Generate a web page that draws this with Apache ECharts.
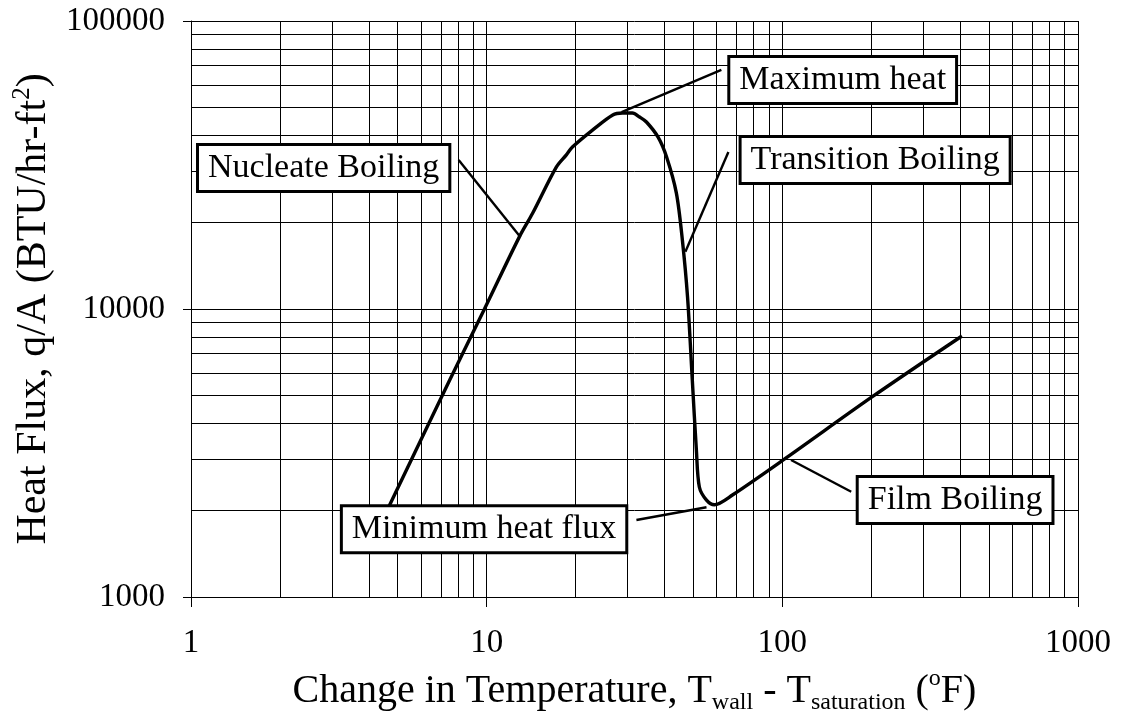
<!DOCTYPE html>
<html><head><meta charset="utf-8">
<script src="https://cdn.jsdelivr.net/npm/echarts@6/dist/echarts.min.js"></script>
<style>html,body{margin:0;padding:0;background:#fff}#c{width:1122px;height:721px}</style>
</head><body><div id="c"></div>
<script>
const FONT = '"Liberation Serif","Times New Roman",serif';

// Axis ticks
const xTicks = [1, 10, 100, 1000];
const yTicks = [1000, 10000, 100000];
// Minor grid values
const gridX = [2,3,4,5,6,7,8,9,20,30,40,50,60,70,80,90,200,300,400,500,600,700,800,900];
const gridY = [2000,3000,4000,5000,6000,7000,8000,9000,20000,30000,40000,50000,60000,70000,80000,90000];

// Boiling curve (ΔT in °F, q/A in BTU/hr-ft²)
const curveX = [4.0, 7.5, 9.83, 12.9, 14.3, 17.2, 18.6, 19.5, 22.8, 26.7, 28.8, 31.1, 32.9, 34.7, 38.0, 40.6, 43.8, 45.9, 47.8, 49.6, 51.2, 52.4, 55.4, 58.9, 67.8, 103, 201, 405];
const curveY = [1480, 5670, 10000, 17800, 21500, 31100, 34300, 36500, 41800, 47200, 47900, 47900, 46400, 44600, 39500, 33700, 25300, 17400, 11000, 5670, 3240, 2410, 2170, 2090, 2260, 3040, 4950, 8060];

// Annotations
const labelText = ['Nucleate Boiling', 'Maximum heat', 'Transition Boiling', 'Film Boiling', 'Minimum heat flux'];
const labelX = [2.81, 160, 206, 384, 9.8];
const labelY = [30900, 62400, 32900, 2170, 1720];
const arrowFromX = [8.04, 62.2, 65.7, 171, 32.1];
const arrowFromY = [32900, 67600, 35100, 2320, 1850];
const arrowToX = [13.0, 28.6, 47.0, 107, 55.4];
const arrowToY = [17800, 48300, 15800, 2990, 2050];

const chart = echarts.init(document.getElementById('c'), null, {renderer: 'canvas'});

const curveData = curveX.map((x, i) => [x, curveY[i]]);
const gridLines = gridX.map(v => ({xAxis: v})).concat(gridY.map(v => ({yAxis: v})));
const arrows = labelText.map((t, i) => [
  {coord: [arrowFromX[i], arrowFromY[i]]},
  {coord: [arrowToX[i], arrowToY[i]]}
]);
const boxes = labelText.map((t, i) => ({name: t, coord: [labelX[i], labelY[i]]}));

const axisCommon = {
  type: 'log',
  logBase: 10,
  axisLine: {show: true, lineStyle: {color: '#000', width: 1}},
  splitLine: {show: true, lineStyle: {color: '#000', width: 1}},
  minorTick: {show: false},
  nameLocation: 'middle',
};

chart.setOption({
  animation: false,
  backgroundColor: '#fff',
  grid: {left: 191, right: 44, top: 21, bottom: 124},
  xAxis: Object.assign({}, axisCommon, {
    min: xTicks[0], max: xTicks[xTicks.length - 1],
    axisTick: {show: true, length: 10, inside: false, lineStyle: {color: '#000'}},
    axisLabel: {fontFamily: FONT, fontSize: 33, color: '#000', margin: 30,
      formatter: v => String(Math.round(v))},
    name: '{m|Change in Temperature, T}{s|wall}{m| - T}{s|saturation}{m| (}{p|o}{m|F)}',
    nameGap: 70,
    nameTextStyle: {
      fontFamily: FONT, color: '#000',
      rich: {
        m: {fontFamily: FONT, fontSize: 40, color: '#000', lineHeight: 48},
        s: {fontFamily: FONT, fontSize: 24, color: '#000', lineHeight: 24, verticalAlign: 'bottom'},
        p: {fontFamily: FONT, fontSize: 24, color: '#000', lineHeight: 24, verticalAlign: 'top'}
      }
    }
  }),
  yAxis: Object.assign({}, axisCommon, {
    min: yTicks[0], max: yTicks[yTicks.length - 1],
    axisTick: {show: true, length: 8, inside: false, lineStyle: {color: '#000'}},
    axisLabel: {fontFamily: FONT, fontSize: 33, color: '#000', margin: 26,
      formatter: v => String(Math.round(v))},
    name: '{m|Heat Flux, q/A (BTU/hr-ft}{p|2}{m|)}',
    nameGap: 128,
    nameRotate: 90,
    nameTextStyle: {
      fontFamily: FONT, color: '#000',
      rich: {
        m: {fontFamily: FONT, fontSize: 42, color: '#000', lineHeight: 48},
        p: {fontFamily: FONT, fontSize: 25, color: '#000', lineHeight: 24, verticalAlign: 'top'}
      }
    }
  }),
  series: [
    {
      type: 'line', data: [], z: 1, silent: true,
      markLine: {
        silent: true, symbol: 'none', animation: false,
        label: {show: false},
        lineStyle: {color: '#000', width: 1, type: 'solid'},
        emphasis: {disabled: true},
        data: gridLines
      }
    },
    {
      type: 'line', data: curveData, z: 3,
      smooth: 0.3,
      showSymbol: false, symbol: 'none',
      lineStyle: {color: '#000', width: 3.4},
      silent: true
    },
    {
      type: 'line', data: [], z: 5, silent: true,
      markLine: {
        silent: true, animation: false,
        symbol: ['none', 'arrow'], symbolSize: [0, 9],
        label: {show: false},
        lineStyle: {color: '#000', width: 2.4, type: 'solid'},
        emphasis: {disabled: true},
        data: arrows
      },
      markPoint: {
        silent: true, animation: false,
        symbol: 'rect', symbolSize: 1,
        itemStyle: {color: 'rgba(0,0,0,0)'},
        label: {
          show: true, position: 'inside',
          formatter: p => p.name,
          fontFamily: FONT, fontSize: 34, color: '#000',
          backgroundColor: '#fff', borderColor: '#000', borderWidth: 3,
          padding: [6, 9, 4, 9]
        },
        data: boxes
      }
    }
  ]
});
</script>
</body></html>
